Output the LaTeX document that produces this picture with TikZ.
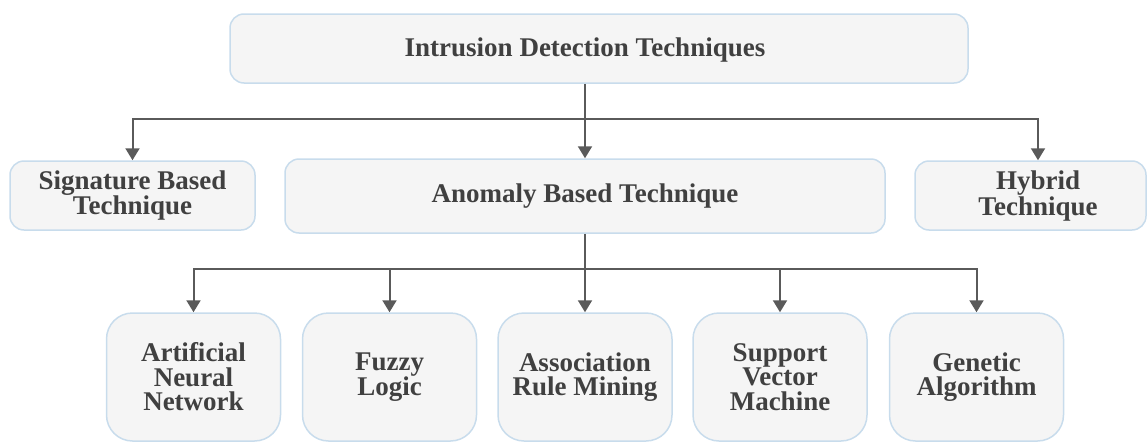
\documentclass[tikz,border=0pt]{standalone}
\usepackage{fontspec}
\setmainfont{Liberation Serif}
\usepackage{tikz}
\usetikzlibrary{arrows.meta}
\usetikzlibrary{positioning}
\definecolor{boxfill}{RGB}{245,245,245}
\definecolor{boxline}{RGB}{200,220,236}
\definecolor{lnk}{RGB}{90,90,90}
\definecolor{txt}{RGB}{64,64,64}

\tikzset{
	box/.style={draw=boxline, fill=boxfill, line width=1.5, rounded corners=14, inner sep=0, text=txt, align=center, font=\bfseries\fontsize{27}{24.5}\selectfont},
	leaf/.style={box, rounded corners=26, minimum width=174, minimum height=128},
	lbl/.style={text=txt, align=center, inner sep=0, font=\bfseries\fontsize{27}{24.5}\selectfont},
	line/.style={draw=lnk, line width=2},
	link/.style={line, -{Triangle[width=14,length=12]}}
}

\begin{document}
\begin{tikzpicture}[x=1pt, y=-1pt]
	
	\useasboundingbox (0,0) rectangle (1148,442);
	
	% top
	\node[box, minimum width=738, minimum height=69] (idt) at (599,48.5) {};
	\node[lbl] (idtlbl) at (585,50) {Intrusion Detection Techniques};
	
	% second row
	\node[box, minimum width=245, minimum height=69] (sig) at (132.5,195.5) {Signature Based\\Technique};
	\node[box, minimum width=600, minimum height=74] (abt) at (585,196) {Anomaly Based Technique};
	\node[box, minimum width=231, minimum height=69] (hyb) at (1030.5,195.5) {};
	\node[lbl] (hyblbl) at (1038,196) {Hybrid\\Technique};
	
	% third row
	\node[leaf] (ann) at (193.5,377) {Artificial\\Neural\\Network};
	\node[leaf] (fuz) at (389.5,377) {Fuzzy\\Logic};
	\node[leaf] (arm) at (585,377) {Association\\Rule Mining};
	\node[leaf] (svm) at (780,377) {Support\\Vector\\Machine};
	\node[leaf] (gen) at (976.5,377) {Genetic\\Algorithm};
	
	% connectors
	\coordinate (bus1) at (585,119);
	\coordinate (bus2) at (585,269);
	\draw[line] (bus1 |- idt.south) -- (bus1);
	\draw[link] (bus1) -| (sig.north);
	\draw[link] (bus1) -- (abt.north);
	\draw[link] (bus1) -| (hyblbl.north |- hyb.north);
	
	\draw[line] (abt.south) -- (bus2);
	\foreach \n in {ann,fuz,arm,svm,gen}
		\draw[link] (bus2) -| (\n.north);
	
\end{tikzpicture}
\end{document}
